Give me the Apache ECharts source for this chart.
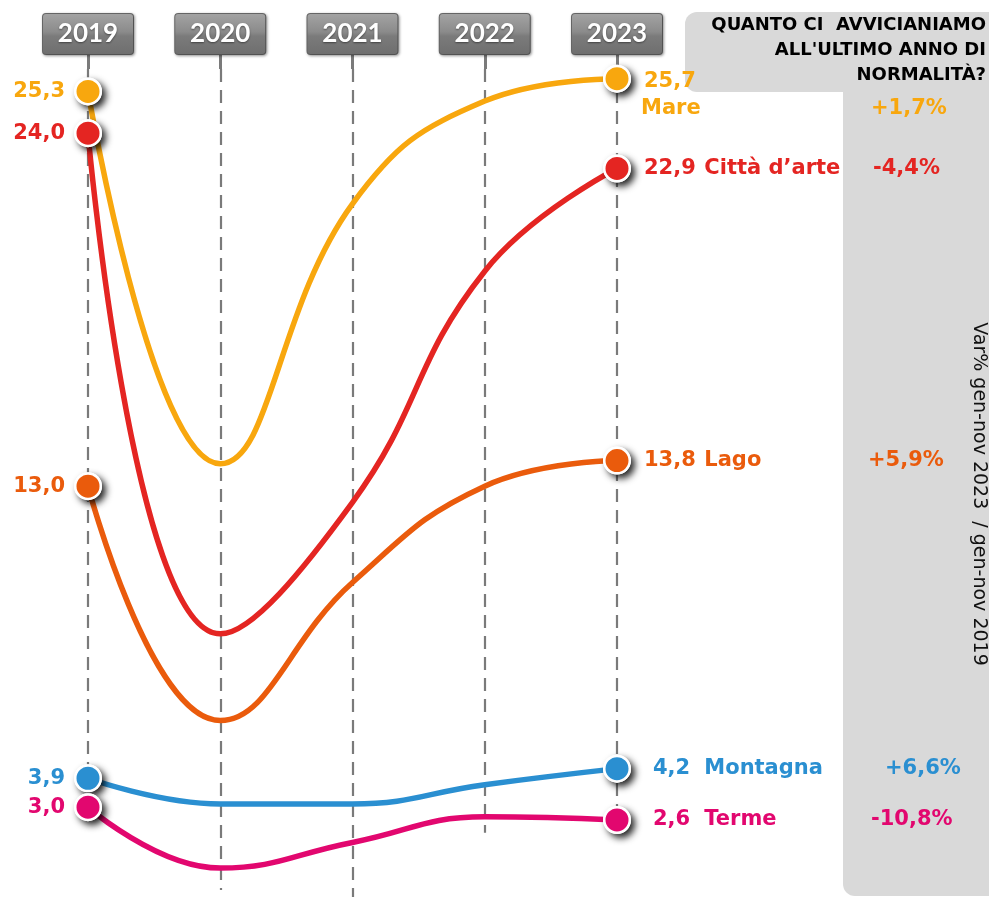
<!DOCTYPE html>
<html><head><meta charset="utf-8">
<script src="https://cdn.jsdelivr.net/npm/echarts@6/dist/echarts.min.js"></script>
<style>html,body{margin:0;padding:0;background:#fff}#c{width:989px;height:897px}</style>
</head><body><div id="c"></div>
<script>
// ---- data ----
const years = ['2019', '2020', '2021', '2022', '2023'];
const names = ['Mare', 'Città d’arte', 'Lago', 'Montagna', 'Terme'];
const mare = [25.3, 13.7, 21.8, 25.0, 25.7];
const citta = [24.0, 8.4, 12.5, 19.7, 22.9];
const lago = [13.0, 5.7, 10.0, 13.0, 13.8];
const montagna = [3.9, 3.1, 3.1, 3.7, 4.2];
const terme = [3.0, 1.1, 1.9, 2.7, 2.6];
const variations = ['+1,7%', '-4,4%', '+5,9%', '+6,6%', '-10,8%'];
const guideEnds = [3.0, 0.42, 0.2, 2.2, 2.6];
const titleLines = ['QUANTO CI  AVVICIANIAMO', 'ALL\'ULTIMO ANNO DI', 'NORMALITÀ?'];
const sideNote = 'Var% gen-nov 2023  / gen-nov 2019';

// ---- style ----
const colors = ['#F8A70E', '#E42522', '#EA5B0C', '#2A8FD1', '#E2076F'];
const nameWidths = [230, 176, 171, 188, 174];
const FONT = 'DejaVu Sans';
const fmt = v => v.toFixed(1).replace('.', ',');

const valuesList = [mare, citta, lago, montagna, terme];
const lastIdx = years.length - 1;

function startLabel(v, idx) {
  return {
    show: true, position: 'left', distance: 9, opacity: 1,
    formatter: fmt(v), color: colors[idx], fontFamily: FONT, fontWeight: 'bold', fontSize: 21
  };
}

function endLabel(v, idx) {
  const c = colors[idx];
  const s = fmt(v);
  const vTok = s.length > 3 ? 'v4' : 'v3';
  const twoLine = idx === 0;
  const txt = twoLine
    ? '{v4|' + s + '}\n{m|' + names[idx] + '}{p|' + variations[idx] + '}'
    : '{' + vTok + '|' + s + '}{n| ' + names[idx] + '}{p|' + variations[idx] + '}';
  const base = { color: c, fontFamily: FONT, fontWeight: 'bold', fontSize: 21, lineHeight: 27, align: 'left' };
  return {
    show: true, position: 'right', distance: 10, opacity: 1,
    offset: twoLine ? [0, 16.5] : [0, 0],
    formatter: txt,
    rich: {
      v4: Object.assign({ width: 53, padding: [0, 0, 0, 3] }, base),
      v3: Object.assign({ width: 44, padding: [0, 0, 0, 12] }, base),
      n: Object.assign({ width: nameWidths[idx] }, base),
      m: Object.assign({ width: nameWidths[idx] }, base),
      p: Object.assign({}, base)
    }
  };
}

const lineSeries = valuesList.map((vals, idx) => ({
  name: names[idx],
  type: 'line',
  smooth: 0.45,
  symbol: 'none',
  data: vals,
  lineStyle: { color: colors[idx], width: 5.5 },
  emphasis: { disabled: true },
  silent: true,
  z: 2
}));

const shadowDots = [];
const dots = [];
valuesList.forEach((vals, idx) => {
  [0, lastIdx].forEach(i => {
    shadowDots.push({ value: [i, vals[i]] });
    dots.push({
      value: [i, vals[i]],
      itemStyle: { color: colors[idx], opacity: 1 },
      label: i === 0 ? startLabel(vals[i], idx) : endLabel(vals[i], idx)
    });
  });
});

const guideSeries = {
  type: 'line',
  data: years.map(() => null),
  z: 1,
  silent: true,
  markLine: {
    silent: true,
    z: 1,
    symbol: ['none', 'none'],
    label: { show: false },
    lineStyle: { color: '#7a7a7a', width: 2.2, type: [13, 8] },
    emphasis: { disabled: true },
    data: years.map((y, i) => [{ coord: [i, 26] }, { coord: [i, guideEnds[i]] }])
  }
};

const series = [guideSeries].concat(lineSeries).concat([
  {
    type: 'scatter', data: shadowDots, symbol: 'circle', symbolSize: 28, z: 3, silent: true,
    itemStyle: { color: '#fff', opacity: 1, shadowColor: 'rgba(0,0,0,0.85)', shadowBlur: 7, shadowOffsetX: 4, shadowOffsetY: 4 },
    emphasis: { disabled: true }
  },
  {
    type: 'scatter', data: dots, symbol: 'circle', symbolSize: 25.5, z: 4, silent: true,
    itemStyle: { borderColor: '#fff', borderWidth: 2.5, opacity: 1 },
    emphasis: { disabled: true }
  }
]);

const chart = echarts.init(document.getElementById('c'), null, { renderer: 'canvas' });
chart.setOption({
  animation: false,
  backgroundColor: '#fff',
  grid: { left: 88, right: 372, top: 69, bottom: 0 },
  xAxis: {
    type: 'category', data: years, boundaryGap: false, position: 'top',
    axisLine: { show: false },
    axisTick: { show: true, length: 14, lineStyle: { color: '#7a7a7a', width: 3 } },
    splitLine: { show: false },
    axisLabel: {
      margin: 15, color: '#fff', fontFamily: 'Lato', fontWeight: 'bold', fontSize: 26,
      width: 90, height: 40, lineHeight: 40, align: 'center',
      backgroundColor: new echarts.graphic.LinearGradient(0, 0, 0, 1, [
        { offset: 0, color: '#a4a4a4' }, { offset: 0.45, color: '#8b8b8b' },
        { offset: 0.55, color: '#7b7b7b' }, { offset: 1, color: '#6e6e6e' }
      ]),
      borderRadius: 3, borderColor: '#6a6a6a', borderWidth: 1,
      shadowColor: 'rgba(0,0,0,0.35)', shadowBlur: 3, shadowOffsetX: 1, shadowOffsetY: 1,
      textShadowColor: 'rgba(0,0,0,0.45)', textShadowBlur: 2, textShadowOffsetY: 1
    }
  },
  yAxis: { type: 'value', min: 0.2, max: 26, show: false, splitLine: { show: false } },
  graphic: [
    { type: 'rect', z: -10, shape: { x: 685, y: 12, width: 330, height: 80, r: 12 }, style: { fill: '#d9d9d9' } },
    { type: 'rect', z: -10, shape: { x: 843, y: 40, width: 170, height: 856, r: [0, 0, 0, 12] }, style: { fill: '#d9d9d9' } },
    { type: 'text', z: 10, x: 986, y: 12.5,
      style: { text: titleLines.join('\n'), align: 'right', verticalAlign: 'top',
        fontFamily: FONT, fontWeight: 'bold', fontSize: 18, lineHeight: 25, fill: '#000' } },
    { type: 'text', z: 10, x: 979, y: 494, rotation: -Math.PI / 2,
      style: { text: sideNote, align: 'center', verticalAlign: 'middle',
        fontFamily: FONT, fontSize: 19, fill: '#111' } }
  ],
  series: series
});
</script></body></html>
